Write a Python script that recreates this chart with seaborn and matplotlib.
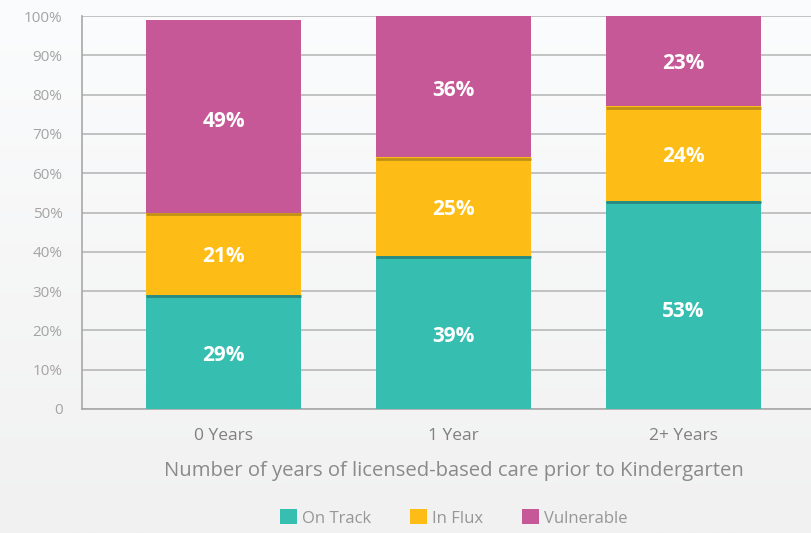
import matplotlib
matplotlib.use('Agg')
import matplotlib.pyplot as plt
import seaborn as sns
import numpy as np
import pandas as pd
from matplotlib.patches import Patch
from matplotlib.colors import LinearSegmentedColormap

categories = ['0 Years', '1 Year', '2+ Years']
series_names = ['On Track', 'In Flux', 'Vulnerable']
on_track = [29, 39, 53]
in_flux = [21, 25, 24]
vulnerable = [49, 36, 23]
y_ticks = [0, 10, 20, 30, 40, 50, 60, 70, 80, 90, 100]
y_tick_labels = ['0', '10%', '20%', '30%', '40%', '50%', '60%', '70%', '80%', '90%', '100%']
x_title = 'Number of years of licensed-based care prior to Kindergarten'

colors = ['#36bfb1', '#fdbd16', '#c65898']
edge_colors = ['#288a80', '#c08f18', '#a8467f']

sns.set_theme(style='white')
plt.rcParams['font.family'] = ['Open Sans', 'DejaVu Sans']

W, H = 811, 533
fig = plt.figure(figsize=(W / 100, H / 100), dpi=100)

# gradient background
bg = fig.add_axes([0, 0, 1, 1], zorder=-10)
grad = np.linspace(0, 1, 256).reshape(-1, 1)
cmap = LinearSegmentedColormap.from_list('bg', ['#fbfcfd', '#f1f1f1'])
bg.imshow(grad, aspect='auto', cmap=cmap, extent=[0, 1, 0, 1])
bg.axis('off')

ax = fig.add_axes([82 / W, (H - 409) / H, 1 - 82 / W, 393 / H])
ax.patch.set_alpha(0)

layers = [on_track, in_flux, vulnerable]
cum = np.cumsum(np.array(layers, dtype=float), axis=0)

bar_w = 0.674
# draw from top layer down (cumulative heights)
for k in range(len(layers) - 1, -1, -1):
    sns.barplot(x=categories, y=cum[k], color=colors[k], saturation=1,
                width=bar_w, ax=ax, edgecolor='none', linewidth=0, zorder=3)

# darker top edges of the lower segments
for k in range(len(layers) - 1):
    for i in range(len(categories)):
        ax.hlines(cum[k][i] - 0.3, i - bar_w / 2, i + bar_w / 2,
                  color=edge_colors[k], lw=2.0, zorder=4)

# labels
for k in range(len(layers)):
    for i in range(len(categories)):
        bottom = cum[k][i] - layers[k][i]
        ax.text(i, bottom + layers[k][i] * 0.47, f'{layers[k][i]}%', ha='center',
                va='center', color='white', fontsize=15, fontweight='bold', zorder=5)

ax.set_xlim(-0.615, 2.554)
ax.set_ylim(0, 100)
ax.set_yticks(y_ticks)
ax.set_yticklabels(y_tick_labels)
ax.tick_params(axis='y', length=0, pad=14, labelsize=11, labelcolor='#a4a4a4')
ax.tick_params(axis='x', length=0, pad=14, labelsize=12.5, labelcolor='#808080')
ax.set_xlabel('')
ax.set_ylabel('')
ax.yaxis.grid(True, color='#b8b8b8', lw=1.2)
ax.xaxis.grid(False)
ax.set_axisbelow(True)
for s in ['top', 'right']:
    ax.spines[s].set_visible(False)
for s in ['left', 'bottom']:
    ax.spines[s].set_color('#a8a8a8')
    ax.spines[s].set_linewidth(1.2)

fig.text(453.5 / W, 1 - 471 / H, x_title, ha='center', va='center',
         fontsize=14.6, color='#8a8a8a')

handles = [Patch(facecolor=c, edgecolor='none') for c in colors]
fig.legend(handles, series_names, loc='center', bbox_to_anchor=(453.5 / W, 1 - 518 / H),
           ncol=3, frameon=False, fontsize=12, labelcolor='#969696',
           handlelength=1.0, handleheight=1.0, handletextpad=0.3, columnspacing=2.35)

fig.savefig('out.png', dpi=100, facecolor=fig.get_facecolor())
